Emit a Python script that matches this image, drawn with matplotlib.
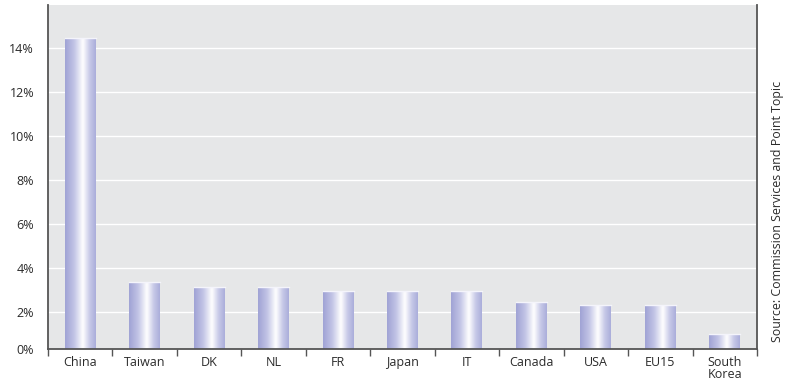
import numpy as np
import matplotlib
matplotlib.use("Agg")
import matplotlib.pyplot as plt
from matplotlib.colors import LinearSegmentedColormap
from matplotlib.patches import Rectangle
import matplotlib.transforms as mtransforms

countries = ["China", "Taiwan", "DK", "NL", "FR", "Japan", "IT", "Canada", "USA", "EU15", "South\nKorea"]
growth = [14.45, 3.39, 3.12, 3.12, 2.98, 2.98, 2.98, 2.48, 2.30, 2.30, 0.98]
tick_vals = [2, 4, 6, 8, 10, 12, 14]
source = "Source: Commission Services and Point Topic"

plt.rcParams["font.family"] = ["Open Sans", "DejaVu Sans"]
text_color = "#2b2b2b"
bg = "#e6e7e8"

fig = plt.figure(figsize=(7.88, 3.85), dpi=100)
ax = fig.add_axes([48 / 788, 1 - 349 / 385, 709 / 788, 344 / 385])
ax.set_facecolor(bg)

ymin, ymax = 0.32, 15.97

cmap = LinearSegmentedColormap.from_list(
    "bar", [(0, "#a0a3d5"), (0.3, "#c3c5e6"), (0.58, "#ffffff"), (0.8, "#c8cae8"), (1, "#abaedb")])
grad = np.linspace(0, 1, 64).reshape(1, -1)

# gradient-filled bars, clipped at the axis line
width = 0.48
x = np.arange(len(countries))
for xi, v in zip(x, growth):
    rect = Rectangle((xi - width / 2, ymin), width, v - ymin, facecolor="none", edgecolor="none")
    ax.add_patch(rect)
    im = ax.imshow(grad, cmap=cmap, aspect="auto", interpolation="bicubic",
                   extent=(xi - width / 2, xi + width / 2, ymin, v), zorder=2)
    im.set_clip_path(rect)
    ax.plot([xi - width / 2, xi + width / 2], [v, v], color="#f4f4fb", lw=1, zorder=3)

ax.set_xlim(-0.5, len(countries) - 0.5)
ax.set_ylim(ymin, ymax)

ax.set_yticks([ymin] + tick_vals)
ax.set_yticklabels(["0%"] + [f"{t}%" for t in tick_vals], fontsize=9, color=text_color)
for t in tick_vals:
    ax.axhline(t, color="white", lw=1, zorder=1)
offset = mtransforms.ScaledTranslation(0, 4 / 72, fig.dpi_scale_trans)
for lab in ax.get_yticklabels()[1:]:
    lab.set_transform(lab.get_transform() + offset)
ax.tick_params(axis="y", length=0, pad=10)

ax.set_xticks(x)
ax.set_xticklabels(countries, fontsize=9, color=text_color, linespacing=0.95)
ax.tick_params(axis="x", length=0, pad=5)
ax.set_xticks(np.arange(-0.5, len(countries) - 0.4, 1), minor=True)
ax.tick_params(axis="x", which="minor", length=5, width=1, color="#555555", direction="out")

ax.spines["top"].set_visible(False)
for s in ["left", "right", "bottom"]:
    ax.spines[s].set_color("#555555")
    ax.spines[s].set_linewidth(1.3)

fig.text(777 / 788, 1 - 211 / 385, source, rotation=90, ha="center", va="center",
         fontsize=8.9, color=text_color)

fig.savefig("out.png", dpi=100, facecolor="white")
